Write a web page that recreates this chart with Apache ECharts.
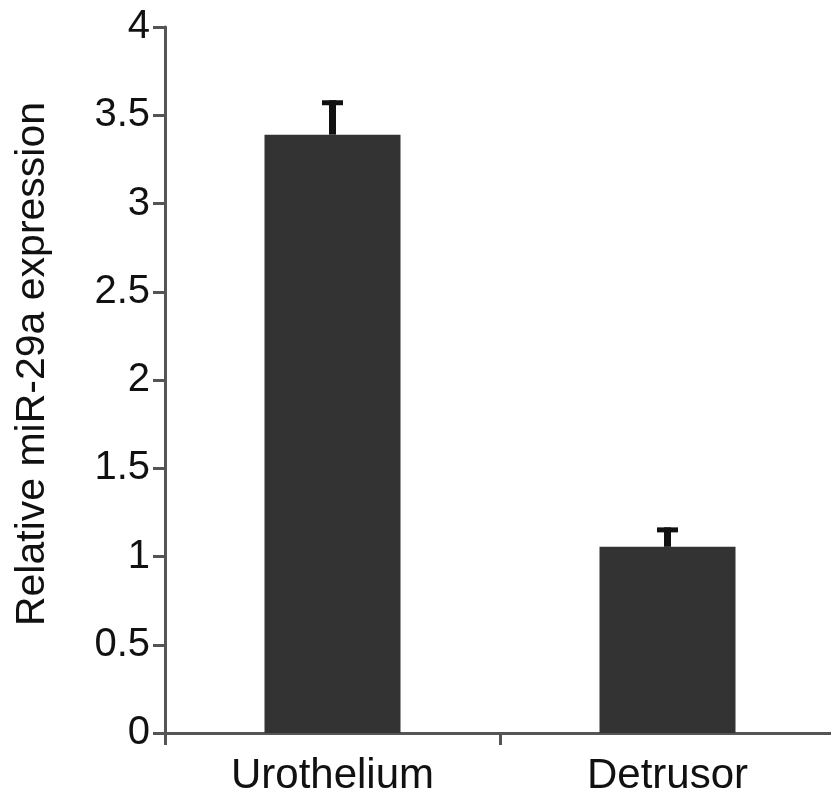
<!DOCTYPE html>
<html>
<head>
<meta charset="utf-8">
<script src="https://cdn.jsdelivr.net/npm/echarts@6/dist/echarts.min.js"></script>
<style>html,body{margin:0;padding:0;background:#fff;}#c{width:831px;height:801px;}</style>
</head>
<body>
<div id="c"></div>
<script>
const categories = ['Urothelium', 'Detrusor'];
const values = [3.39, 1.055];
const errors = [0.195, 0.11];
const yTicks = [0, 0.5, 1, 1.5, 2, 2.5, 3, 3.5, 4];
const yAxisName = 'Relative miR-29a expression';

const FONT = 'Liberation Sans, Arial, sans-serif';
const chart = echarts.init(document.getElementById('c'), null, {renderer: 'canvas'});

chart.setOption({
  animation: false,
  backgroundColor: '#fff',
  grid: {left: 165, width: 670, top: 27, bottom: 68, containLabel: false, outerBoundsMode: 'none'},
  xAxis: {
    type: 'category',
    data: categories,
    boundaryGap: true,
    axisLine: {lineStyle: {color: '#555', width: 3}},
    axisTick: {show: true, length: 12, lineStyle: {color: '#555', width: 3}},
    axisLabel: {fontSize: 42, color: '#111', fontFamily: FONT, margin: 22}
  },
  yAxis: {
    type: 'value',
    min: yTicks[0],
    max: yTicks[yTicks.length - 1],
    interval: yTicks[1] - yTicks[0],
    name: yAxisName,
    nameLocation: 'middle',
    nameGap: 112,
    nameTextStyle: {fontSize: 41, color: '#111', fontFamily: FONT, padding: [0, 0, 0, 32]},
    axisLine: {show: true, lineStyle: {color: '#555', width: 3}},
    axisTick: {show: true, length: 12, lineStyle: {color: '#555', width: 3}},
    splitLine: {show: false},
    axisLabel: {fontSize: 40, color: '#111', fontFamily: FONT, margin: 15}
  },
  series: [
    {
      type: 'bar',
      data: values,
      barWidth: 136,
      itemStyle: {color: '#333'}
    },
    {
      type: 'custom',
      data: values.map((v, i) => [i, v, errors[i]]),
      z: 5,
      renderItem: function (params, api) {
        const i = api.value(0);
        const v = api.value(1);
        const e = api.value(2);
        const base = api.coord([i, v]);
        const top = api.coord([i, v + e]);
        return {
          type: 'group',
          children: [
            {type: 'rect', shape: {x: base[0] - 3.5, y: top[1], width: 7, height: base[1] - top[1]}, style: {fill: '#111'}},
            {type: 'rect', shape: {x: base[0] - 10.5, y: top[1], width: 21, height: 5}, style: {fill: '#111'}}
          ]
        };
      }
    }
  ]
});
</script>
</body>
</html>
